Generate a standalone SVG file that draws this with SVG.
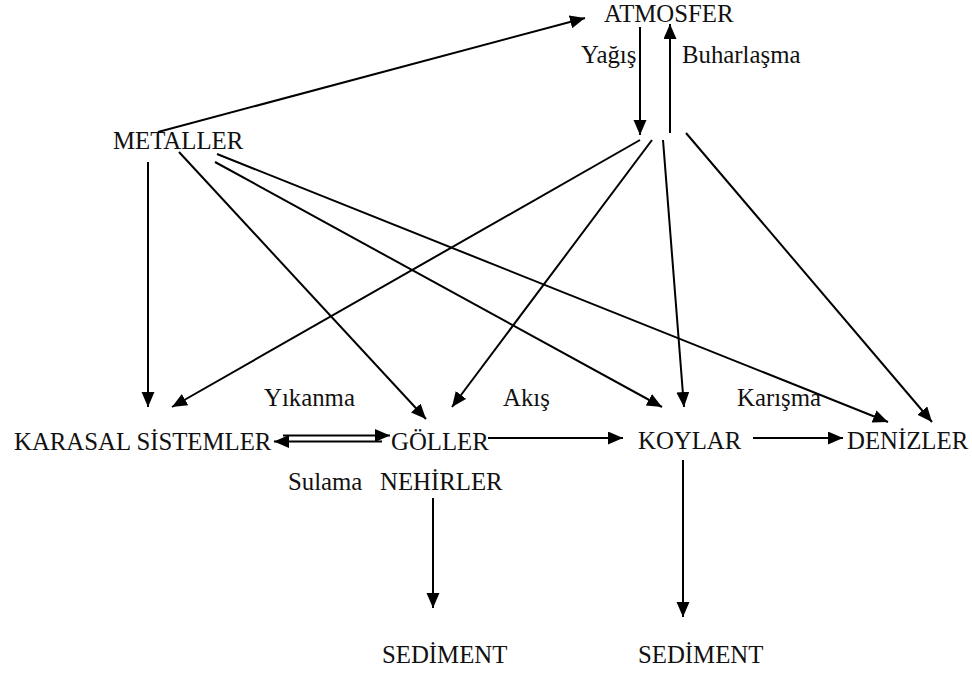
<svg xmlns="http://www.w3.org/2000/svg" width="972" height="673" viewBox="0 0 972 673">
<style>
text{font-family:"Liberation Serif","Times New Roman",serif;font-size:24.8px;fill:#111}
.c line{stroke:#000;stroke-width:2;fill:none}
</style>
<defs>
<marker id="ah" markerUnits="userSpaceOnUse" markerWidth="16" markerHeight="14" refX="15" refY="6.5" orient="auto">
<path d="M0,0 L15,6.5 L0,13 z" fill="#000"/>
</marker>
</defs>
<rect width="972" height="673" fill="#fff"/>
<g id="atmosfer"><text x="604" y="22">ATMOSFER</text></g>
<g id="metaller"><text x="113" y="149">METALLER</text></g>
<g id="karasal"><text x="14" y="450">KARASAL SİSTEMLER</text></g>
<g id="goller"><text x="391" y="450">GÖLLER</text></g>
<g id="nehirler"><text x="380" y="490">NEHİRLER</text></g>
<g id="koylar"><text x="638" y="449">KOYLAR</text></g>
<g id="denizler"><text x="847" y="449">DENİZLER</text></g>
<g id="sediment1"><text x="382" y="663">SEDİMENT</text></g>
<g id="sediment2"><text x="638" y="663">SEDİMENT</text></g>
<g id="labels">
<text x="581" y="63">Yağış</text>
<text x="682" y="63">Buharlaşma</text>
<text x="264" y="406">Yıkanma</text>
<text x="503" y="406">Akış</text>
<text x="737" y="406">Karışma</text>
<text x="288" y="490">Sulama</text>
</g>
<g id="connectors" class="c">
<line x1="158" y1="132" x2="585" y2="18" marker-end="url(#ah)"/>
<line x1="640" y1="27" x2="640" y2="135" marker-end="url(#ah)"/>
<line x1="670" y1="133" x2="670" y2="24" marker-end="url(#ah)"/>
<line x1="640" y1="140" x2="172" y2="407" marker-end="url(#ah)"/>
<line x1="652" y1="140" x2="452" y2="407" marker-end="url(#ah)"/>
<line x1="663" y1="140" x2="684" y2="407" marker-end="url(#ah)"/>
<line x1="686" y1="133" x2="932" y2="422" marker-end="url(#ah)"/>
<line x1="148" y1="162" x2="148" y2="407" marker-end="url(#ah)"/>
<line x1="179" y1="152" x2="426" y2="419" marker-end="url(#ah)"/>
<line x1="215" y1="162" x2="662" y2="407" marker-end="url(#ah)"/>
<line x1="217" y1="154" x2="888" y2="422" marker-end="url(#ah)"/>
<line x1="283" y1="435.5" x2="390" y2="435.5" marker-end="url(#ah)"/>
<line x1="382" y1="441.5" x2="274" y2="441.5" marker-end="url(#ah)"/>
<line x1="488" y1="438" x2="623" y2="438" marker-end="url(#ah)"/>
<line x1="753" y1="438" x2="843" y2="438" marker-end="url(#ah)"/>
<line x1="433" y1="498" x2="433" y2="608" marker-end="url(#ah)"/>
<line x1="683" y1="460" x2="683" y2="617" marker-end="url(#ah)"/>
</g>
</svg>
